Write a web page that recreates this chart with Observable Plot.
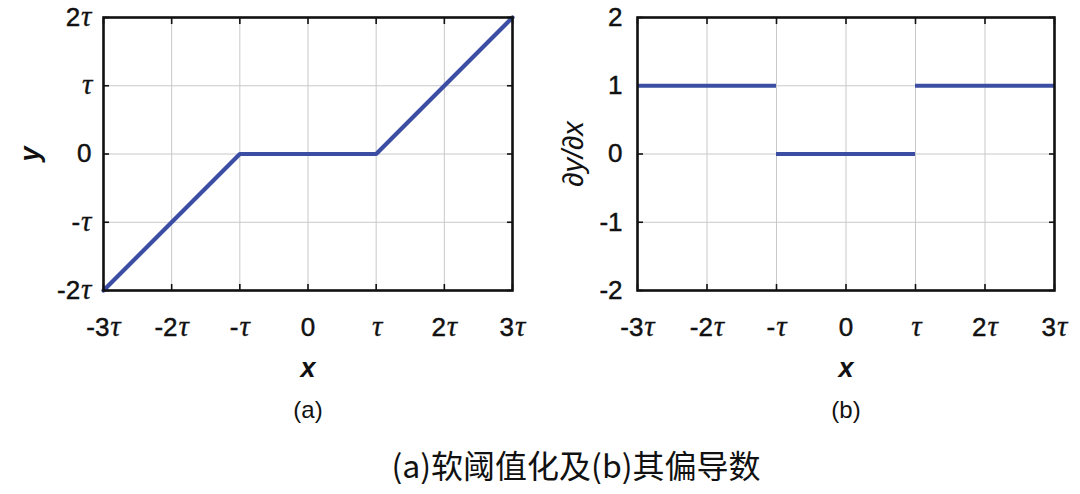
<!DOCTYPE html>
<html>
<head>
<meta charset="utf-8">
<script src="https://cdn.jsdelivr.net/npm/d3@7"></script>
<script src="https://cdn.jsdelivr.net/npm/@observablehq/plot@0.6"></script>
<style>
  html, body { margin: 0; padding: 0; background: white; }
  #wrap { width: 1080px; }
  #panels { display: flex; width: 1080px; }
  #caption { width: 1080px; text-align: center; font-family: "Noto Sans CJK SC", sans-serif; font-size: 32px; color: #111; line-height: 40px; margin-top: 14px; padding-left: 72px; box-sizing: border-box; }
</style>
</head>
<body>
<div id="wrap">
  <div id="panels"></div>
  <div id="caption">(a)软阈值化及(b)其偏导数</div>
</div>
<script>
// Data (x in units of τ)
const xTicks = [-3, -2, -1, 0, 1, 2, 3];
const xTickLabels = ["-3τ", "-2τ", "-τ", "0", "τ", "2τ", "3τ"];
const yTicks = [-2, -1, 0, 1, 2];
const yTickLabelsA = ["-2τ", "-τ", "0", "τ", "2τ"];
const yTickLabelsB = ["-2", "-1", "0", "1", "2"];
// Panel (a): soft thresholding
const softX = [-3, -1, 1, 3];
const softY = [-2, 0, 0, 2];
// Panel (b): partial derivative, piecewise constant segments
const derivX1 = [-3, -1, 1];
const derivX2 = [-1, 1, 3];
const derivY = [1, 0, 1];

const blue = "#3b4ea3";
const softData = softX.map((x, i) => ({x, y: softY[i]}));
const derivData = derivX1.map((x1, i) => ({x1, x2: derivX2[i], y: derivY[i]}));

function panel({marginLeft, marginRight, yLabels, yPad, yLabel, yLabelDx, sub, lineMarks}) {
  const fmtX = d => xTickLabels[xTicks.indexOf(d)];
  const fmtY = d => yLabels[yTicks.indexOf(d)];
  return Plot.plot({
    width: 540,
    height: 430,
    marginLeft, marginRight, marginTop: 17, marginBottom: 140,
    x: {domain: [-3, 3]},
    y: {domain: [-2, 2]},
    style: {fontFamily: "'Liberation Sans', Arial, sans-serif", color: "#111", background: "white", overflow: "visible"},
    marks: [
      Plot.gridX(xTicks, {stroke: "#c8c8c8", strokeOpacity: 1, strokeWidth: 1}),
      Plot.gridY(yTicks, {stroke: "#c8c8c8", strokeOpacity: 1, strokeWidth: 1}),
      Plot.axisX(xTicks, {anchor: "bottom", tickSize: -6, tickFormat: () => "", label: null, strokeWidth: 1.6}),
      Plot.axisX(xTicks, {anchor: "top", tickSize: -6, tickFormat: () => "", label: null, strokeWidth: 1.6}),
      Plot.axisY(yTicks, {anchor: "left", tickSize: -6, tickFormat: () => "", label: null, strokeWidth: 1.6}),
      Plot.axisY(yTicks, {anchor: "right", tickSize: -6, tickFormat: () => "", label: null, strokeWidth: 1.6}),
      Plot.axisX(xTicks, {anchor: "bottom", tickSize: 0, tickPadding: 27, tickFormat: fmtX, label: null}),
      Plot.axisY(yTicks, {anchor: "left", tickSize: 0, tickPadding: yPad, tickFormat: fmtY, label: null}),
      ...lineMarks,
      Plot.frame({stroke: "#111", strokeWidth: 2.6}),
      Plot.text(["x"], {frameAnchor: "bottom", lineAnchor: "middle", dy: 78, fontStyle: "italic", fontWeight: "bold", fill: "#111"}),
      Plot.text([sub], {frameAnchor: "bottom", lineAnchor: "middle", dy: 120, fill: "#111"}),
      Plot.text([yLabel], {frameAnchor: "left", textAnchor: "middle", lineAnchor: "middle", dx: yLabelDx, rotate: -90, fontStyle: "italic", fill: "#111", fontWeight: yLabel === "y" ? "bold" : "normal"})
    ]
  });
}

const a = panel({
  marginLeft: 103, marginRight: 28, yPad: 12,
  yLabels: yTickLabelsA, yLabel: "y", yLabelDx: -73, sub: "(a)",
  lineMarks: [Plot.line(softData, {x: "x", y: "y", stroke: blue, strokeWidth: 4.2, strokeLinejoin: "miter"})]
});
const b = panel({
  marginLeft: 97, marginRight: 26, yPad: 15,
  yLabels: yTickLabelsB, yLabel: "∂y/∂x", yLabelDx: -64, sub: "(b)",
  lineMarks: [Plot.ruleY(derivData, {x1: "x1", x2: "x2", y: "y", stroke: blue, strokeWidth: 4.2})]
});

function tauSpan() {
  const t2 = document.createElementNS("http://www.w3.org/2000/svg", "tspan");
  t2.textContent = "τ";
  t2.setAttribute("font-family", "'Liberation Serif', 'DejaVu Serif', serif");
  t2.setAttribute("font-style", "italic");
  t2.style.fontSize = "29px";
  t2.style.strokeWidth = "0.3";
  t2.setAttribute("dx", "1");
  return t2;
}
const special = {"x": "27px", "(a)": "24px", "(b)": "24px", "y": "27px", "∂y/∂x": "29px"};
for (const svg of [a, b]) {
  svg.querySelectorAll("text").forEach(el => {
    const s = el.textContent;
    el.style.fontSize = special[s] || "26px";
    el.style.fill = "#111";
    if (!special[s]) { el.style.stroke = "#111"; el.style.strokeWidth = "0.45"; }
    if (!s.includes("τ")) return;
    if (el.children.length === 0) {
      el.textContent = "";
      const pre = s.replace("τ", "");
      if (pre) el.appendChild(document.createTextNode(pre));
      el.appendChild(tauSpan());
    } else {
      el.querySelectorAll("tspan").forEach(ts => {
        const v = ts.textContent;
        if (v.includes("τ")) {
          ts.textContent = v.replace("τ", "");
          ts.after(tauSpan());
        }
      });
    }
  });
}

document.getElementById("panels").append(a, b);
</script>
</body>
</html>
